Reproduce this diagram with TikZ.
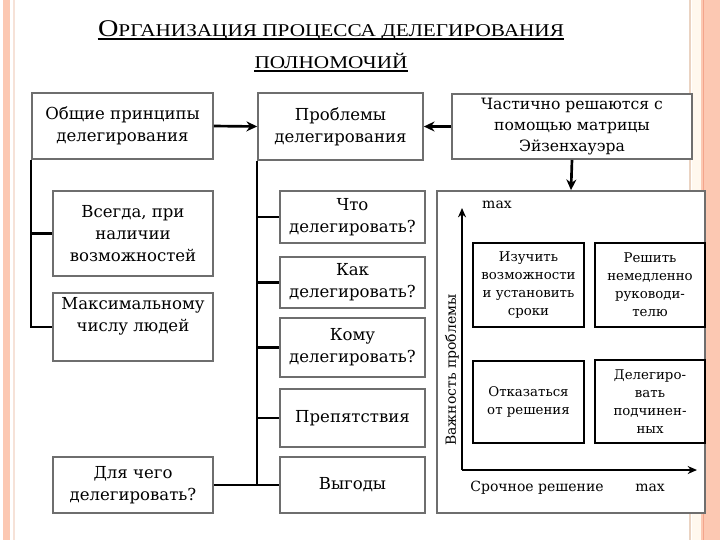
\documentclass[tikz,border=0pt]{standalone}
\usepackage{fontspec}
\setmainfont{DejaVu Serif}
\newfontfamily\titlefont[FakeStretch=1.18]{Liberation Serif}
\usetikzlibrary{arrows.meta}
\definecolor{salmon}{HTML}{FCC8B2}
\definecolor{darksalmon}{HTML}{F3A58C}
\definecolor{lightpink}{HTML}{F6E2D8}
\definecolor{tanline}{HTML}{EAD3C2}
\definecolor{cream}{HTML}{FFF8EE}
\definecolor{boxgray}{HTML}{6E6E6E}
\tikzset{
  box/.style={draw=boxgray,line width=1.3pt,fill=white,align=center,inner sep=0pt,font=\fontsize{12.4}{16.5}\selectfont},
  cbox/.style={box,font=\fontsize{11.7}{16}\selectfont},
  qbox/.style={draw=black,line width=1.6pt,fill=white,align=center,inner sep=0pt,font=\fontsize{10}{13.5}\selectfont},
  conn/.style={line width=2pt,draw=black},
  arr/.style={conn,-{Stealth[length=8pt,width=7.5pt]}},
  axis/.style={line width=1.4pt,draw=black,-{Stealth[length=7pt,width=6pt]}},
  lbl/.style={inner sep=0pt,font=\fontsize{10.5}{12}\selectfont},
  ttl/.style={anchor=base,inner sep=0pt,font=\titlefont}
}
\begin{document}
\begin{tikzpicture}[x=0.75pt,y=-0.75pt]
\useasboundingbox (0,0) rectangle (720,540);
% background
\fill[white] (0,0) rectangle (720,540);
\fill[salmon] (3,0) rectangle (10,540);
\draw[lightpink,line width=0.8pt] (14,0) -- (14,540);
\draw[tanline,line width=1.2pt] (690,0) -- (690,540);
\fill[cream] (692,0) rectangle (701,540);
\fill[salmon] (701,0) rectangle (720,540);
\draw[darksalmon,line width=1pt] (703.5,0) -- (703.5,540);
% title
\node[ttl] (t1) at (331,36)
  {{\fontsize{18}{18}\selectfont О}{\fontsize{13.5}{14}\selectfont РГАНИЗАЦИЯ ПРОЦЕССА ДЕЛЕГИРОВАНИЯ}};
\node[ttl] (t2) at (331,68)
  {\fontsize{13.5}{14}\selectfont ПОЛНОМОЧИЙ};
\draw[line width=1.2pt] ([yshift=-2.4pt]t1.base west) -- ([yshift=-2.4pt]t1.base east);
\draw[line width=1.2pt] ([yshift=-2.4pt]t2.base west) -- ([yshift=-2.4pt]t2.base east);
% top row
\node[box,minimum width=135.75pt,minimum height=49.5pt] (A) at (122.5,126) {Общие принципы\\делегирования};
\node[box,minimum width=123.75pt,minimum height=50.25pt] (B) at (340.5,126.5) {Проблемы\\делегирования};
\node[cbox,minimum width=180pt,minimum height=48.75pt] (C) at (572,126.5) {Частично решаются с\\помощью матрицы\\Эйзенхауэра};
% left column
\node[box,minimum width=120pt,minimum height=63.75pt] (vs) at (133,233.5) {Всегда, при\\наличии\\возможностей};
\node[box,minimum width=120pt,minimum height=51pt] (mx) at (133,327) {Максимальному\\числу людей\\[-2pt]\strut};
\node[box,minimum width=120pt,minimum height=42pt] (dl) at (133,485) {Для чего\\делегировать?};
% middle column
\node[box,minimum width=108.75pt,minimum height=39pt] (chto) at (352.5,217) {Что\\делегировать?};
\node[box,minimum width=108.75pt,minimum height=38.25pt] (kak) at (352.5,282.5) {Как\\делегировать?};
\node[box,minimum width=108.75pt,minimum height=44.25pt] (komu) at (352.5,347.5) {Кому\\делегировать?};
\node[box,minimum width=108.75pt,minimum height=43.5pt] (prep) at (352.5,418) {Препятствия};
\node[box,minimum width=108.75pt,minimum height=42pt] (vyg) at (352.5,485) {Выгоды};
% matrix
\node[box,minimum width=201pt,minimum height=241.5pt] (M) at (571,352) {};
\coordinate (O) at (462,470);
\coordinate (Ytop) at (462,208);
\coordinate (Xend) at (697,470);
\draw[axis] (O) -- (Ytop);
\draw[axis] (O) -- (Xend);
\node[qbox,minimum width=83.25pt,minimum height=63pt] (TL) at (528.5,285) {Изучить\\возможности\\и установить\\сроки};
\node[qbox,minimum width=82.5pt,minimum height=63pt] (TR) at (650,285) {Решить\\немедленно\\руководи-\\телю};
\node[qbox,minimum width=83.25pt,minimum height=61.5pt] (BL) at (528.5,402) {Отказаться\\от решения};
\node[qbox,minimum width=82.5pt,minimum height=62.25pt] (BR) at (650,401.5) {Делегиро-\\вать\\подчинен-\\ных};
\node[lbl] (ymax) at (497,205) {max};
\node[lbl,rotate=90] (vazh) at (452,370) {Важность проблемы};
\node[lbl] (sroch) at (537,488) {Срочное решение};
\node[lbl] (xmax) at (650,488) {max};
% connectors
\draw[arr] (A.east) -- (B.west);
\draw[arr] (C.west) -- (B.east);
\draw[arr] (C.south) -- (M.north);
\draw[conn] (A.south west) |- (mx.west);
\draw[conn] (A.south west |- vs.west) -- (vs.west);
\draw[conn] (B.south west) -- (B.south west |- vyg.west);
\draw[conn] (B.south west |- chto.west) -- (chto.west);
\draw[conn] (B.south west |- kak.west) -- (kak.west);
\draw[conn] (B.south west |- komu.west) -- (komu.west);
\draw[conn] (B.south west |- prep.west) -- (prep.west);
\draw[conn] (dl.east) -- (vyg.west);
\end{tikzpicture}
\end{document}
